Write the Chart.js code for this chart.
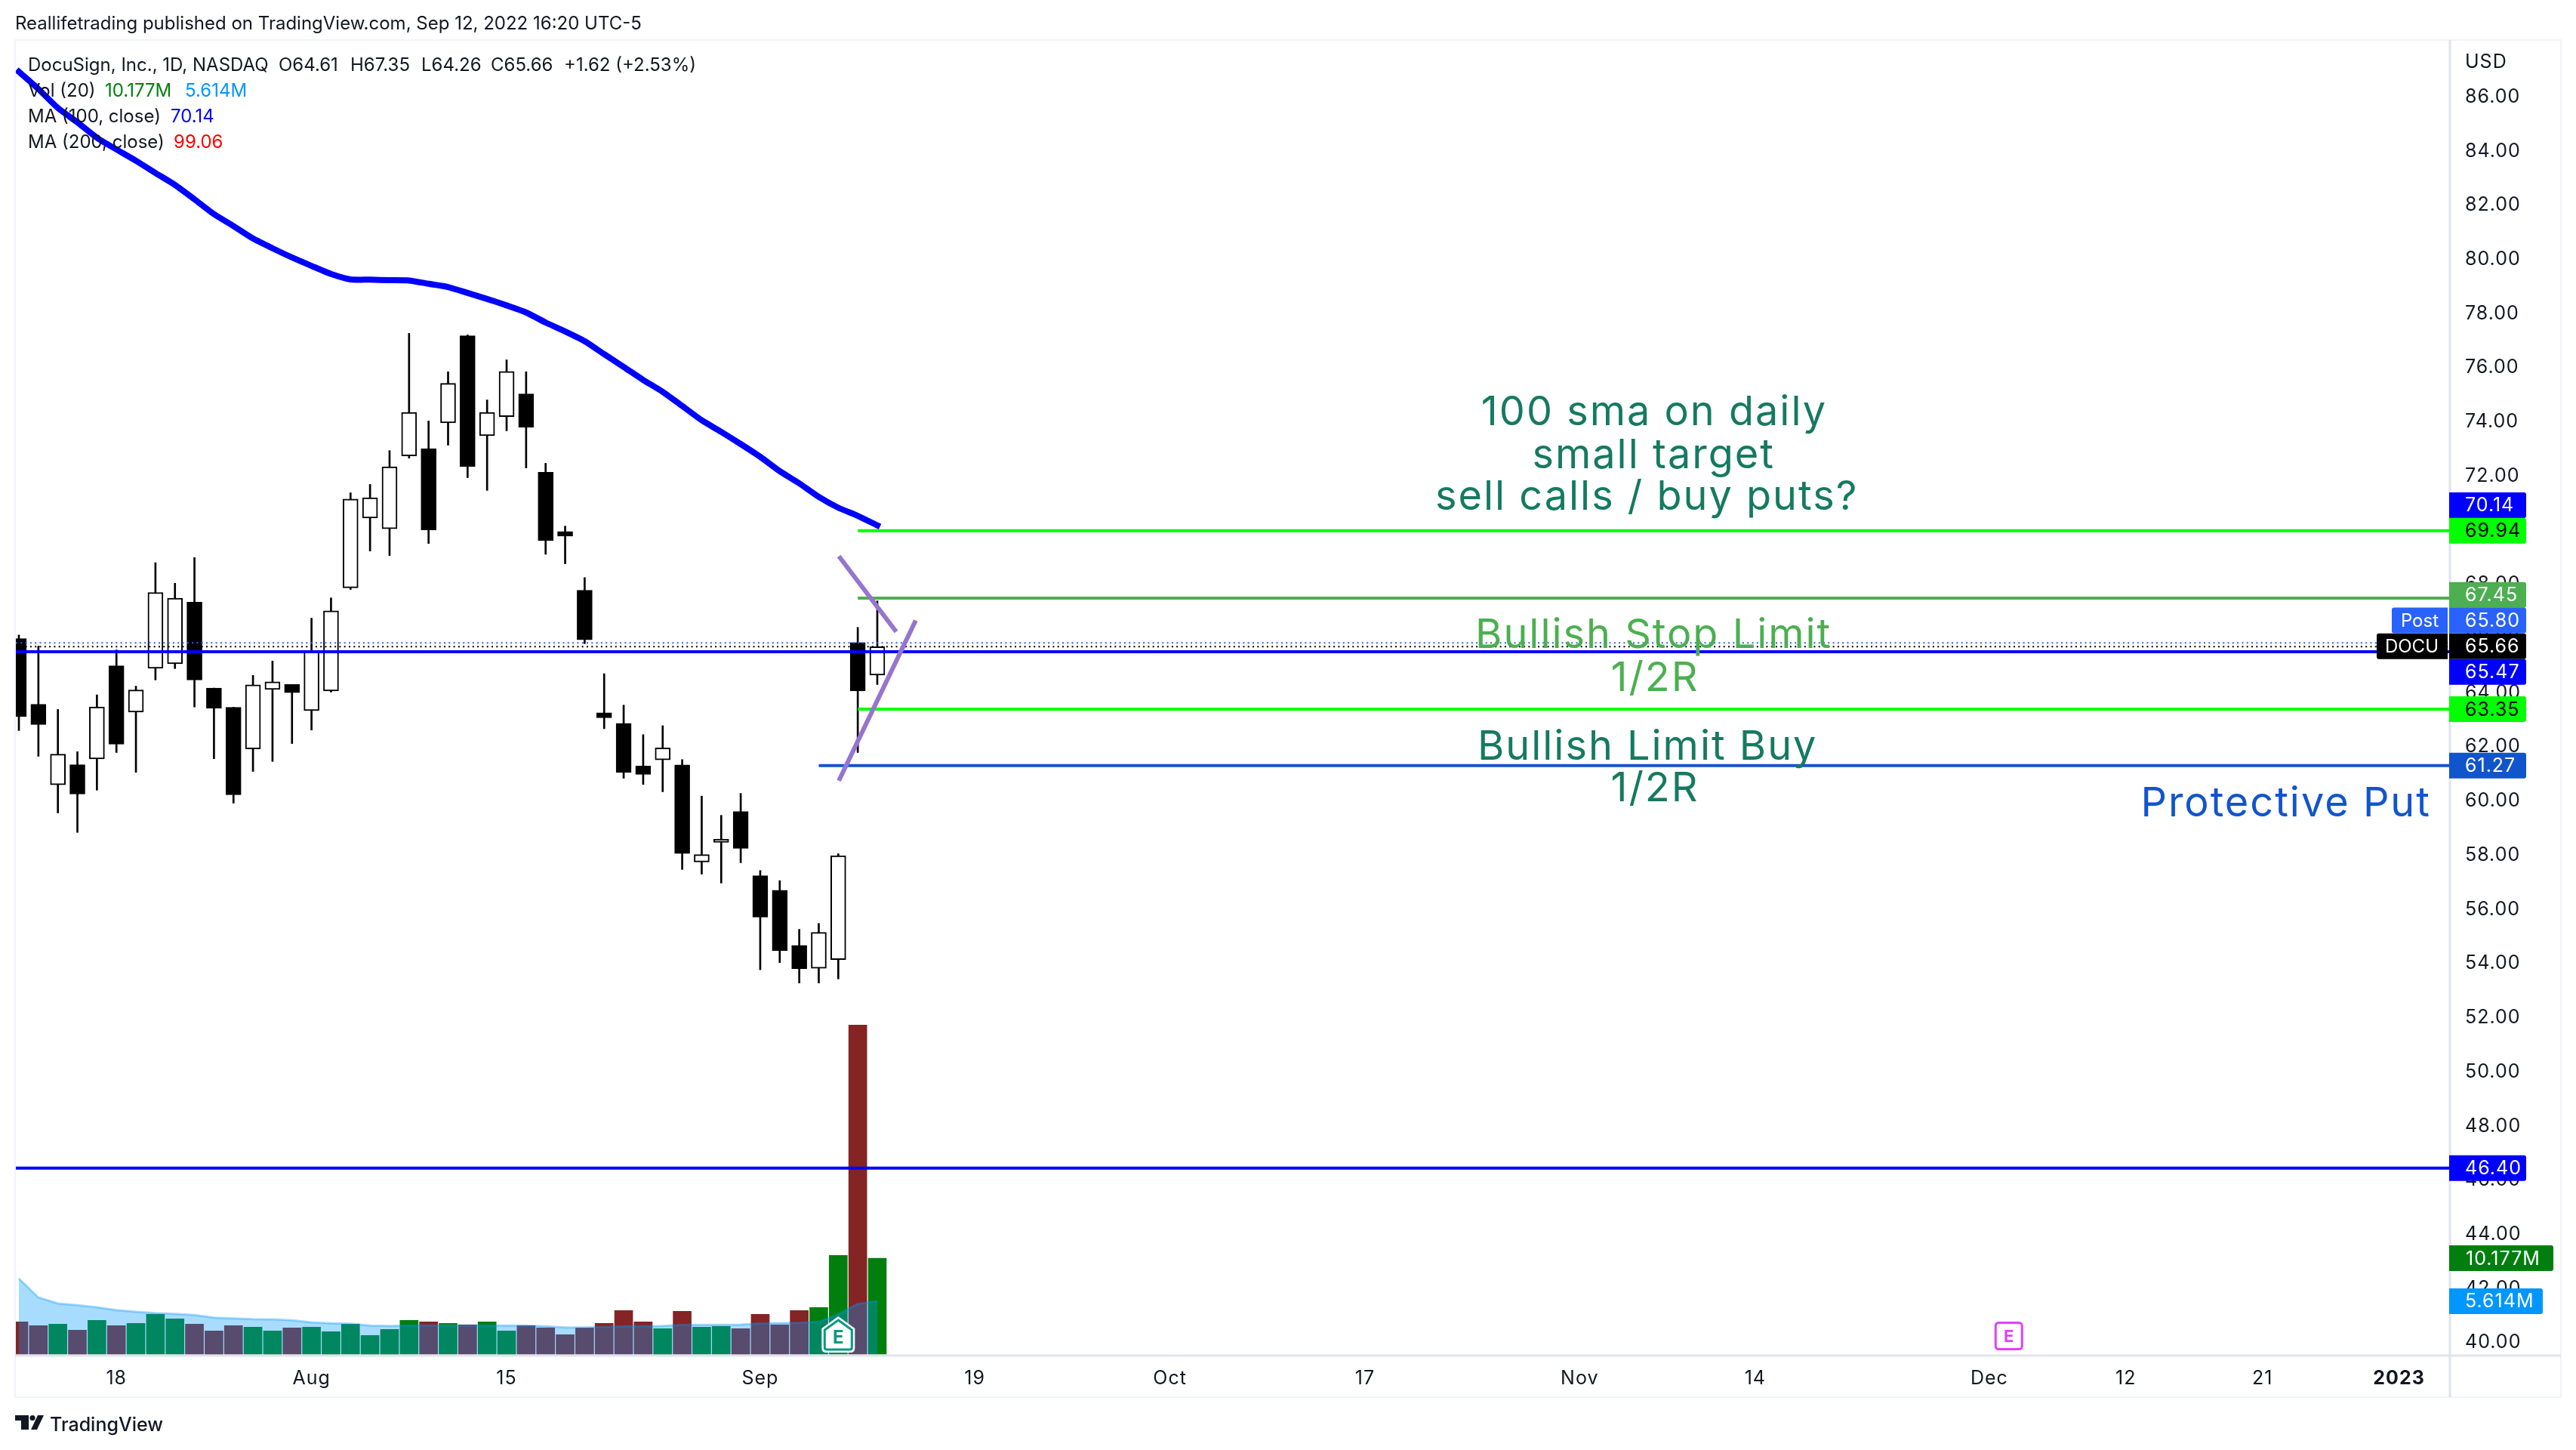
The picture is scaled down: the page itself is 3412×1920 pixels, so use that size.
<!DOCTYPE html>
<html>
<head>
<meta charset="utf-8">
<title>DOCU 1D</title>
<style>
  html, body { margin: 0; padding: 0; background: #fff; }
  canvas { display: block; }
</style>
<script src="https://cdn.jsdelivr.net/npm/chart.js@4"></script>
</head>
<body>
<canvas id="chart" width="3412" height="1920"></canvas>
<script>
// daily candles, Jul 11 to Sep 12 2022
const opens = [65.96,63.53,60.56,61.30,61.51,64.95,63.24,64.86,65.03,67.30,64.13,63.42,61.88,64.08,64.26,63.30,64.02,67.83,70.41,70.01,72.70,72.97,73.92,77.14,73.45,74.15,74.99,72.10,69.91,67.74,63.22,62.83,61.25,61.48,61.29,57.71,58.43,59.57,57.20,56.66,54.63,53.78,54.10,65.81,64.61];
const highs = [66.09,65.68,63.34,61.78,63.88,65.54,64.20,68.76,68.00,68.95,64.13,63.42,64.60,65.13,64.26,66.71,67.46,71.34,71.65,72.90,77.23,73.99,75.81,77.17,74.77,76.25,75.81,72.43,70.11,68.21,64.66,63.50,62.41,62.74,61.49,60.14,59.43,60.24,57.39,57.02,55.22,55.44,58.01,66.37,67.35];
const lows = [62.56,61.61,59.52,58.80,60.36,61.75,61.02,64.43,64.85,63.43,61.52,59.88,61.05,61.42,62.08,62.58,63.98,67.77,69.19,69.02,72.62,69.47,73.10,71.90,71.43,73.63,72.26,69.07,68.72,65.77,62.63,60.80,60.57,60.30,57.43,57.26,56.93,57.68,53.73,53.99,53.24,53.24,53.39,61.75,64.26];
const closes = [63.08,62.78,61.69,60.22,63.43,62.06,64.06,67.66,67.45,64.43,63.39,60.19,64.25,64.36,63.96,65.48,66.98,71.11,71.16,72.30,74.31,69.97,75.38,72.31,74.31,75.82,73.76,69.58,69.74,65.91,63.03,61.02,60.94,61.92,58.02,57.98,58.55,58.21,55.67,54.44,53.77,55.11,57.94,64.02,65.66];

// volume in millions, and its 20 day average
const volumes = [3.42,3.02,3.18,2.54,3.58,3.02,3.26,4.22,3.74,3.18,2.46,3.02,2.86,2.46,2.78,2.86,2.38,3.18,1.98,2.62,3.58,3.42,3.26,3.10,3.42,2.46,3.02,2.78,2.06,2.78,3.26,4.62,3.42,2.70,4.54,2.86,2.94,2.70,4.22,3.10,4.62,4.94,10.47,34.9,10.177];
const volumeAvg = [8.01,6.01,5.37,5.18,4.97,4.67,4.49,4.35,4.27,4.14,3.87,3.79,3.71,3.69,3.58,3.37,3.26,3.23,3.02,2.99,3.02,3.04,3.04,3.04,3.04,3.02,3.02,2.94,2.83,2.83,2.88,2.94,2.96,2.99,3.10,3.10,3.10,3.13,3.26,3.29,3.32,3.42,4.22,5.34,5.614];

// 100 day moving average
const ma100 = [86.89,86.25,85.55,85.02,84.45,84.02,83.60,83.15,82.71,82.18,81.63,81.19,80.73,80.37,80.03,79.72,79.42,79.22,79.21,79.19,79.18,79.06,78.94,78.72,78.50,78.26,78.00,77.63,77.30,76.94,76.46,75.99,75.51,75.07,74.55,74.02,73.59,73.14,72.67,72.14,71.69,71.19,70.79,70.49,70.14];

// axes
const priceTicks = [40,42,44,46,48,50,52,54,56,58,60,62,64,66,68,70,72,74,76,78,80,82,84,86];
const dateTickIndex = [5,15,25,38,49,59,69,80,89,101,108,115,122];
const dateTickLabels = ['18','Aug','15','Sep','19','Oct','17','Nov','14','Dec','12','21','2023'];

// drawn levels and their start bar
const targetLevel = 69.94;
const stopLevel = 67.45;
const limitLevel = 63.35;
const levelStart = 43;
const putLevel = 61.27;
const putStart = 41;
const supportLevel = 46.40;
const maLevel = 65.47;
const postPrice = 65.80;
const lastPrice = 65.66;

// purple wedge
const wedgeUpperX = [42.03, 44.97];
const wedgeUpperY = [69.0, 66.21];
const wedgeLowerX = [42.03, 45.97];
const wedgeLowerY = [60.71, 66.63];

// earnings flags (past, next)
const pastEarningsIndex = 42;
const nextEarningsIndex = 102;

// notes on the chart
const noteTexts = ['100 sma on daily','small target','sell calls / buy puts?','Bullish Stop Limit','1/2R','Bullish Limit Buy','1/2R','Protective Put'];
const noteIndex = [83.82,83.79,83.44,83.79,83.86,83.48,83.86,116.2];
const notePrice = [73.84,72.25,70.72,65.61,64.02,61.49,59.95,59.40];
const noteColors = ['#157a60','#157a60','#157a60','#4caf50','#4caf50','#157a60','#157a60','#1155cc'];

// price tags on the right axis
const tagValues = [70.14,69.94,67.45,65.80,65.66,65.47,63.35,61.27,46.40];
const tagShift = [-26.7,0,-4.3,-29.6,-0.6,26.6,0,0,0];
const tagFill = ['#0000ff','#00ff00','#4caf50','#2962ff','#000000','#0000ff','#00ff00','#1155cc','#0000ff'];
const tagInk = ['#fff','#000','#fff','#fff','#fff','#fff','#000','#fff','#fff'];

const FONT = 'Inter, "Noto Sans", sans-serif';
const INK = '#131722';
const UP_VOL = '#007f0e';
const DOWN_VOL = '#842424';

const isUp = (i) => closes[i] >= opens[i];

const levelLine = (value, start, color) => ({
  type: 'line',
  data: [{ x: start, y: value }, { x: 124.61, y: value }],
  borderColor: color,
  borderWidth: 4,
  pointRadius: 0,
  order: 5,
});

const dottedLine = (value, color) => ({
  type: 'line',
  data: [{ x: -0.155, y: value }, { x: 124.61, y: value }],
  borderColor: color,
  borderWidth: 2,
  borderDash: [2, 4.3],
  pointRadius: 0,
  order: 6,
});

const wedgeLine = (xs, ys) => ({
  type: 'line',
  data: xs.map((x, i) => ({ x: x, y: ys[i] })),
  borderColor: '#9575cd',
  borderWidth: 6,
  pointRadius: 0,
  order: 1,
});

const roundRect = (ctx, x, y, w, h, r) => {
  ctx.beginPath();
  ctx.roundRect(x, y, w, h, r);
};

const drawText = (ctx, text, x, y, color, font, align) => {
  ctx.fillStyle = color;
  ctx.font = font;
  ctx.textAlign = align || 'left';
  ctx.fillText(text, x, y);
};

const framePlugin = {
  id: 'frame',
  beforeDraw(chart) {
    // axis labels are spaced out a little in the original
    chart.ctx.letterSpacing = '1px';
  },
  beforeDatasetsDraw(chart) {
    const ctx = chart.ctx;
    ctx.save();
    ctx.lineWidth = 2;
    ctx.strokeStyle = '#f0f3fa';
    ctx.strokeRect(20, 53, 3372, 1797);
    ctx.lineWidth = 3;
    ctx.strokeStyle = '#e0e3eb';
    ctx.beginPath();
    ctx.moveTo(3245, 53);
    ctx.lineTo(3245, 1850);
    ctx.moveTo(20, 1795);
    ctx.lineTo(3392, 1795);
    ctx.stroke();
    ctx.restore();
  },
};

const overlayPlugin = {
  id: 'overlay',
  afterDraw(chart) {
    const ctx = chart.ctx;
    const x = chart.scales.x;
    const y = chart.scales.y;
    const vol = chart.scales.vol;
    ctx.save();
    ctx.textBaseline = 'alphabetic';

    // notes, anchored on the scales
    ctx.letterSpacing = '2px';
    noteTexts.forEach((text, i) => {
      drawText(ctx, text, x.getPixelForValue(noteIndex[i]), y.getPixelForValue(notePrice[i]), noteColors[i], '400 54px ' + FONT, 'center');
    });
    ctx.letterSpacing = '0px';

    // publisher line and legend
    const small = '400 24px ' + FONT;
    drawText(ctx, 'Reallifetrading published on TradingView.com, Sep 12, 2022 16:20 UTC-5', 20, 39, INK, small);
    drawText(ctx, 'DocuSign, Inc., 1D, NASDAQ', 37, 94, INK, small);
    drawText(ctx, 'O64.61', 369, 94, INK, small);
    drawText(ctx, 'H67.35', 464, 94, INK, small);
    drawText(ctx, 'L64.26', 558, 94, INK, small);
    drawText(ctx, 'C65.66', 650, 94, INK, small);
    drawText(ctx, '+1.62 (+2.53%)', 747, 94, INK, small);
    drawText(ctx, 'Vol (20)', 37, 128, INK, small);
    drawText(ctx, '10.177M', 139, 128, '#007f0e', small);
    drawText(ctx, '5.614M', 245, 128, '#0096ff', small);
    drawText(ctx, 'MA (100, close)', 37, 162, INK, small);
    drawText(ctx, '70.14', 226, 162, '#0000ff', small);
    drawText(ctx, 'MA (200, close)', 37, 196, INK, small);
    drawText(ctx, '99.06', 230, 196, '#ff0000', small);
    ctx.letterSpacing = '1px';
    drawText(ctx, 'USD', 3265, 90, INK, '400 25px ' + FONT);

    // price tags
    ctx.textBaseline = 'middle';
    const tagFont = '400 25px ' + FONT;
    tagValues.forEach((value, i) => {
      const cy = y.getPixelForValue(value) + tagShift[i];
      ctx.fillStyle = tagFill[i];
      roundRect(ctx, 3244, cy - 17, 102, 34, [0, 3, 3, 0]);
      ctx.fill();
      drawText(ctx, value.toFixed(2), 3265, cy + 1, tagInk[i], tagFont);
    });

    // symbol and session labels next to the tags
    const postY = y.getPixelForValue(postPrice) - 29.6;
    const lastY = y.getPixelForValue(lastPrice) - 0.6;
    ctx.letterSpacing = '0px';
    ctx.fillStyle = '#2962ff';
    roundRect(ctx, 3168, postY - 17, 74, 34, [3, 0, 0, 3]);
    ctx.fill();
    drawText(ctx, 'Post', 3230, postY + 1, '#fff', '400 24px ' + FONT, 'right');
    ctx.fillStyle = '#000';
    roundRect(ctx, 3148, lastY - 17, 94, 34, [3, 0, 0, 3]);
    ctx.fill();
    drawText(ctx, 'DOCU', 3230, lastY + 1, '#fff', '400 24px ' + FONT, 'right');
    ctx.letterSpacing = '1px';

    // volume tags
    const volTagY = vol.getPixelForValue(volumes[volumes.length - 1]);
    ctx.fillStyle = UP_VOL;
    roundRect(ctx, 3244, volTagY - 17, 138, 34, [0, 3, 3, 0]);
    ctx.fill();
    drawText(ctx, '10.177M', 3266, volTagY + 1, '#fff', tagFont);
    const avgTagY = vol.getPixelForValue(volumeAvg[volumeAvg.length - 1]);
    ctx.fillStyle = '#0096ff';
    roundRect(ctx, 3244, avgTagY - 17, 124, 34, [0, 3, 3, 0]);
    ctx.fill();
    drawText(ctx, '5.614M', 3265, avgTagY + 1, '#fff', tagFont);
    ctx.letterSpacing = '0px';

    // past earnings shield
    ctx.textBaseline = 'alphabetic';
    const ex = x.getPixelForValue(pastEarningsIndex);
    ctx.beginPath();
    ctx.moveTo(ex, 1743);
    ctx.lineTo(ex + 22, 1759);
    ctx.lineTo(ex + 22, 1785);
    ctx.quadraticCurveTo(ex + 22, 1791, ex + 16, 1791);
    ctx.lineTo(ex - 16, 1791);
    ctx.quadraticCurveTo(ex - 22, 1791, ex - 22, 1785);
    ctx.lineTo(ex - 22, 1759);
    ctx.closePath();
    ctx.fillStyle = '#fff';
    ctx.fill();
    ctx.beginPath();
    ctx.moveTo(ex, 1748);
    ctx.lineTo(ex + 18, 1761);
    ctx.lineTo(ex + 18, 1784);
    ctx.quadraticCurveTo(ex + 18, 1787, ex + 15, 1787);
    ctx.lineTo(ex - 15, 1787);
    ctx.quadraticCurveTo(ex - 18, 1787, ex - 18, 1784);
    ctx.lineTo(ex - 18, 1761);
    ctx.closePath();
    ctx.strokeStyle = '#089981';
    ctx.lineWidth = 3;
    ctx.stroke();
    drawText(ctx, 'E', ex, 1779, '#089981', '700 24px ' + FONT, 'center');

    // next earnings box
    const nx = x.getPixelForValue(nextEarningsIndex);
    ctx.strokeStyle = '#e040fb';
    ctx.lineWidth = 3;
    roundRect(ctx, nx - 17.5, 1751.5, 35, 35, 4);
    ctx.stroke();
    drawText(ctx, 'E', nx, 1777, '#e040fb', '700 22px ' + FONT, 'center');

    // logo
    ctx.fillStyle = INK;
    ctx.fillRect(20, 1874, 18, 7);
    ctx.fillRect(28, 1874, 10, 19);
    ctx.beginPath();
    ctx.arc(43, 1877.5, 3.6, 0, Math.PI * 2);
    ctx.fill();
    ctx.beginPath();
    ctx.moveTo(50, 1874);
    ctx.lineTo(58, 1874);
    ctx.lineTo(49, 1893);
    ctx.lineTo(41, 1893);
    ctx.closePath();
    ctx.fill();
    drawText(ctx, 'TradingView', 66, 1895, INK, '500 25px ' + FONT);
    ctx.restore();
  },
};

new Chart(document.getElementById('chart'), {
  type: 'bar',
  plugins: [framePlugin, overlayPlugin],
  data: {
    datasets: [
      // volume pane
      {
        yAxisID: 'vol',
        grouped: false,
        barThickness: 24,
        order: 30,
        data: volumes.map((v, i) => ({ x: i, y: v })),
        backgroundColor: volumes.map((v, i) => (isUp(i) ? UP_VOL : DOWN_VOL)),
      },
      {
        type: 'line',
        yAxisID: 'vol',
        order: 25,
        data: volumeAvg.map((v, i) => ({ x: i, y: v })),
        borderColor: 'rgba(0,150,255,0.35)',
        borderWidth: 3,
        backgroundColor: 'rgba(0,152,255,0.34)',
        fill: { value: 0 },
        pointRadius: 0,
      },
      // candles: wick then body
      {
        grouped: false,
        barThickness: 2,
        order: 20,
        data: highs.map((h, i) => ({ x: i, y: [lows[i], h] })),
        backgroundColor: '#000',
      },
      {
        grouped: false,
        barThickness: 20,
        order: 15,
        data: opens.map((o, i) => ({ x: i, y: [o, closes[i]] })),
        backgroundColor: opens.map((o, i) => (isUp(i) ? '#fff' : '#000')),
        borderColor: '#000',
        borderWidth: 2,
        borderSkipped: false,
      },
      dottedLine(postPrice, '#2962ff'),
      dottedLine(lastPrice, '#000'),
      levelLine(maLevel, -0.155, '#0000ff'),
      levelLine(supportLevel, -0.155, '#0000ff'),
      levelLine(targetLevel, levelStart, '#00ff00'),
      levelLine(stopLevel, levelStart, '#4caf50'),
      levelLine(limitLevel, levelStart, '#00ff00'),
      levelLine(putLevel, putStart, '#1155cc'),
      wedgeLine(wedgeUpperX, wedgeUpperY),
      wedgeLine(wedgeLowerX, wedgeLowerY),
      {
        type: 'line',
        order: 2,
        data: ma100.map((v, i) => ({ x: i, y: v })),
        borderColor: '#0000ff',
        borderWidth: 8,
        borderCapStyle: 'square',
        tension: 0.2,
        pointRadius: 0,
      },
    ],
  },
  options: {
    responsive: false,
    devicePixelRatio: 1,
    animation: false,
    layout: { padding: { left: 21, top: 53, right: 20, bottom: 70 } },
    plugins: {
      legend: { display: false },
      tooltip: { enabled: false },
    },
    scales: {
      x: {
        type: 'linear',
        offset: false,
        min: -0.155,
        max: 124.61,
        grid: { display: false, drawTicks: false, offset: false },
        border: { display: false },
        afterBuildTicks: (s) => {
          s.ticks = dateTickIndex.map((v) => ({ value: v }));
        },
        afterFit: (s) => {
          s.height = 55;
        },
        ticks: {
          autoSkip: false,
          maxRotation: 0,
          padding: 15,
          color: INK,
          font: (c) => ({ family: FONT, size: 25, weight: dateTickLabels[c.index] === '2023' ? '700' : '400' }),
          callback: (v) => dateTickLabels[dateTickIndex.indexOf(v)],
        },
      },
      y: {
        position: 'right',
        min: 39.48,
        max: 88.06,
        grid: { display: false, drawTicks: false },
        border: { display: false },
        afterBuildTicks: (s) => {
          s.ticks = priceTicks.map((v) => ({ value: v }));
        },
        afterFit: (s) => {
          s.width = 147;
        },
        ticks: {
          autoSkip: false,
          padding: 20,
          labelOffset: 1.5,
          color: INK,
          font: { family: FONT, size: 25 },
          callback: (v) => v.toFixed(2),
        },
      },
      vol: {
        display: false,
        min: -0.16,
        max: 139.42,
      },
    },
  },
});
</script>
</body>
</html>
